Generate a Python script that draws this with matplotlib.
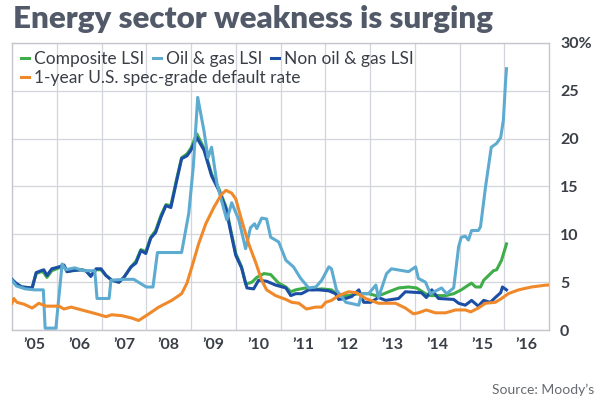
import matplotlib
matplotlib.use("Agg")
import matplotlib.pyplot as plt
from matplotlib.lines import Line2D

# Fechas en años decimales, valores en %
oil_x = [2005.0, 2005.1, 2005.3, 2005.5, 2005.7, 2005.74, 2005.98, 2006.12, 2006.2, 2006.4,
         2006.6, 2006.85, 2006.9, 2007.17, 2007.21, 2007.5, 2007.72, 2008.0, 2008.15, 2008.25,
         2008.79, 2008.95, 2009.05, 2009.15, 2009.29, 2009.38, 2009.46, 2009.58, 2009.8, 2009.91,
         2010.07, 2010.22, 2010.33, 2010.42, 2010.47, 2010.58, 2010.69, 2010.78, 2010.96, 2011.12,
         2011.29, 2011.45, 2011.63, 2011.79, 2011.92, 2012.08, 2012.14, 2012.25, 2012.46, 2012.75,
         2012.81, 2012.97, 2013.13, 2013.19, 2013.37, 2013.48, 2013.86, 2014.02, 2014.08, 2014.24,
         2014.35, 2014.60, 2014.71, 2014.87, 2014.98, 2015.04, 2015.13, 2015.20, 2015.27, 2015.42,
         2015.47, 2015.58, 2015.71, 2015.83, 2015.92, 2015.98, 2016.03, 2016.05]
oil_y = [5.2, 4.6, 4.3, 4.2, 4.2, 0.2, 0.2, 6.9, 6.3, 6.5,
         6.2, 6.2, 3.3, 3.3, 5.2, 5.3, 5.3, 4.5, 4.5, 8.1,
         8.1, 12.2, 17.0, 24.3, 20.8, 18.0, 19.1, 15.3, 11.5, 13.3,
         11.5, 8.5, 10.7, 11.1, 10.6, 11.7, 11.6, 9.7, 9.2, 7.3,
         6.6, 5.4, 4.4, 4.5, 5.2, 6.6, 6.4, 4.2, 2.9, 2.6,
         3.8, 3.8, 4.7, 3.4, 5.9, 6.4, 6.1, 6.6, 5.4, 5.0,
         3.8, 4.4, 3.8, 4.4, 8.7, 9.7, 9.8, 9.4, 10.4, 10.4,
         10.8, 14.9, 19.1, 19.5, 20.1, 21.9, 26.0, 27.3]

non_x = [2005.0, 2005.09, 2005.22, 2005.45, 2005.54, 2005.65, 2005.71, 2005.78, 2005.89, 2006.05,
         2006.16, 2006.23, 2006.34, 2006.54, 2006.65, 2006.76, 2006.88, 2006.99, 2007.10, 2007.23,
         2007.39, 2007.50, 2007.66, 2007.77, 2007.88, 2007.99, 2008.10, 2008.21, 2008.33, 2008.44,
         2008.55, 2008.68, 2008.79, 2008.91, 2009.00, 2009.13, 2009.29, 2009.46, 2009.62, 2009.78,
         2009.89, 2010.00, 2010.13, 2010.25, 2010.40, 2010.51, 2010.69, 2010.89, 2011.12, 2011.23,
         2011.34, 2011.47, 2011.63, 2011.85, 2012.08, 2012.23, 2012.30, 2012.46, 2012.59, 2012.75,
         2012.86, 2013.01, 2013.19, 2013.35, 2013.64, 2013.79, 2014.15, 2014.26, 2014.38, 2014.53,
         2014.87, 2014.98, 2015.13, 2015.27, 2015.42, 2015.54, 2015.69, 2015.80, 2015.92, 2015.96,
         2016.05]
non_y = [5.3, 4.9, 4.5, 4.4, 6.0, 6.2, 6.3, 5.7, 6.4, 6.6,
         6.8, 6.1, 6.2, 6.3, 6.2, 5.6, 6.4, 6.4, 5.7, 5.2,
         5.0, 5.5, 6.6, 7.0, 8.3, 8.0, 9.6, 10.2, 11.8, 13.0,
         12.8, 15.6, 17.9, 18.2, 18.8, 20.1, 18.8, 16.1, 14.6, 12.7,
         10.2, 7.8, 6.5, 4.4, 4.3, 5.2, 5.1, 4.7, 4.4, 3.6,
         3.8, 3.8, 4.2, 4.2, 4.1, 3.8, 3.2, 3.3, 3.5, 4.2,
         2.9, 2.9, 3.4, 3.1, 3.3, 4.0, 3.9, 3.4, 4.2, 3.3,
         3.2, 2.8, 2.6, 3.1, 2.5, 3.1, 2.9, 3.4, 3.9, 4.5,
         4.2]

comp_x = [2005.0, 2005.09, 2005.22, 2005.45, 2005.54, 2005.65, 2005.71, 2005.78, 2005.89, 2006.05,
          2006.16, 2006.23, 2006.34, 2006.54, 2006.65, 2006.76, 2006.88, 2006.99, 2007.10, 2007.23,
          2007.39, 2007.50, 2007.66, 2007.77, 2007.88, 2007.99, 2008.10, 2008.21, 2008.33, 2008.44,
          2008.55, 2008.68, 2008.79, 2008.91, 2009.00, 2009.13, 2009.29, 2009.46, 2009.62, 2009.78,
          2009.89, 2010.00, 2010.13, 2010.22, 2010.36, 2010.47, 2010.63, 2010.78, 2010.96, 2011.12,
          2011.23, 2011.34, 2011.56, 2011.70, 2011.92, 2012.14, 2012.30, 2012.52, 2012.75, 2012.97,
          2013.13, 2013.26, 2013.42, 2013.64, 2013.86, 2014.04, 2014.24, 2014.35, 2014.69, 2014.87,
          2015.04, 2015.20, 2015.27, 2015.36, 2015.47, 2015.54, 2015.65, 2015.76, 2015.83, 2015.94,
          2016.05]
comp_y = [5.2, 4.8, 4.5, 4.4, 5.9, 6.1, 6.0, 5.5, 6.2, 6.5,
          6.7, 6.1, 6.2, 6.3, 6.2, 5.7, 6.3, 6.3, 5.7, 5.2,
          5.0, 5.5, 6.6, 7.2, 8.4, 8.2, 9.7, 10.4, 12.0, 13.1,
          13.0, 15.8, 18.0, 18.4, 19.0, 20.5, 19.0, 16.3, 14.8, 12.9,
          10.4, 8.0, 6.6, 4.8, 5.0, 5.5, 5.9, 5.8, 4.9, 4.5,
          4.0, 4.2, 4.4, 4.2, 4.3, 4.2, 3.6, 3.6, 3.8, 3.8,
          3.6, 3.7, 4.0, 4.4, 4.5, 4.4, 3.8, 3.6, 3.6, 3.8,
          4.2, 4.7, 4.9, 4.5, 4.5, 5.2, 5.7, 6.2, 6.3, 7.3,
          9.0]

dflt_x = [2005.0, 2005.04, 2005.11, 2005.27, 2005.45, 2005.60, 2005.76, 2006.05, 2006.16, 2006.32,
          2006.56, 2006.88, 2007.10, 2007.23, 2007.46, 2007.68, 2007.83, 2008.06, 2008.28, 2008.57,
          2008.79, 2008.91, 2009.02, 2009.17, 2009.33, 2009.51, 2009.67, 2009.78, 2009.91, 2010.00,
          2010.13, 2010.29, 2010.45, 2010.58, 2010.69, 2010.89, 2011.12, 2011.25, 2011.41, 2011.58,
          2011.79, 2011.92, 2012.01, 2012.14, 2012.30, 2012.52, 2012.70, 2012.90, 2013.19, 2013.57,
          2013.79, 2013.97, 2014.08, 2014.26, 2014.46, 2014.69, 2014.91, 2015.13, 2015.25, 2015.42,
          2015.58, 2015.80, 2015.94, 2016.09, 2016.32, 2016.61, 2016.94, 2017.0]
dflt_y = [2.8, 3.3, 2.9, 2.7, 2.3, 2.8, 2.5, 2.5, 2.2, 2.4,
          2.1, 1.7, 1.4, 1.6, 1.5, 1.25, 1.0, 1.7, 2.4, 3.1,
          3.8, 4.9, 6.6, 9.0, 11.1, 12.8, 14.1, 14.6, 14.3, 13.7,
          11.5, 9.0, 7.0, 5.2, 4.2, 3.6, 3.2, 2.9, 2.8, 2.2,
          2.4, 2.4, 2.9, 3.1, 3.6, 4.0, 3.9, 3.3, 2.8, 2.8,
          2.3, 1.7, 1.8, 2.1, 1.8, 1.8, 2.1, 2.1, 1.9, 2.3,
          2.8, 2.9, 3.3, 3.8, 4.2, 4.5, 4.7, 4.7]

year_ticks = [2005.5 + i for i in range(12)]
year_labels = ["\u2019%02d" % (5 + i) for i in range(12)]
value_ticks = [0, 5, 10, 15, 20, 25, 30]
value_labels = ["0", "5", "10", "15", "20", "25", "30%"]

c_green = "#3fae49"
c_light = "#5eabd1"
c_dark = "#1c4ea6"
c_orange = "#f0892a"
c_grid = "#d3d5dc"
c_text = "#3a3f47"

plt.rcParams["font.family"] = ["Lato", "DejaVu Sans"]

fig = plt.figure(figsize=(6.0, 4.08), dpi=100)
ax = fig.add_axes([0.02, 0.191, 0.895, 0.704])

ax.plot(comp_x, comp_y, color=c_green, lw=2.2, zorder=3)
ax.plot(non_x, non_y, color=c_dark, lw=2.2, zorder=4)
ax.plot(oil_x, oil_y, color=c_light, lw=2.2, zorder=5)
ax.plot(dflt_x, dflt_y, color=c_orange, lw=2.2, zorder=6)

ax.set_xlim(2005, 2017)
ax.set_ylim(0, 30)
ax.set_xticks(year_ticks)
ax.set_xticklabels(year_labels, fontsize=11.5, fontweight="bold", color=c_text)
ax.set_xticks(range(2006, 2017), minor=True)
ax.yaxis.tick_right()
ax.set_yticks(value_ticks)
ax.set_yticklabels(value_labels, fontsize=11.5, fontweight="bold", color=c_text)
ax.tick_params(axis="both", which="both", length=0)
ax.tick_params(axis="x", pad=6)
ax.tick_params(axis="y", pad=8)
ax.grid(True, which="minor", axis="x", color=c_grid, lw=0.9)
ax.grid(True, which="major", axis="y", color=c_grid, lw=0.9)
for s in ax.spines.values():
    s.set_color("#c4c6cc")
    s.set_linewidth(1.0)

handles = [Line2D([], [], color=c, lw=2.2) for c in (c_green, c_light, c_dark, c_orange)]
labels = ["Composite LSI", "Oil & gas LSI", "Non oil & gas LSI", "1-year U.S. spec-grade default rate"]
leg1 = ax.legend(handles[:3], labels[:3], loc="upper left", bbox_to_anchor=(-0.005, 1.014), ncol=3,
                 frameon=False, handlelength=0.45, handletextpad=0.25, columnspacing=0.55,
                 prop={"size": 12.5}, labelcolor=c_text, borderaxespad=0.3)
ax.add_artist(leg1)
ax.legend(handles[3:], labels[3:], loc="upper left", bbox_to_anchor=(-0.005, 0.949),
          frameon=False, handlelength=0.45, handletextpad=0.25,
          prop={"size": 12.5}, labelcolor=c_text, borderaxespad=0.3)

fig.text(0.022, 0.953, "Energy sector weakness is surging", fontsize=22.5, fontweight="heavy",
         color="#525a69", va="center", ha="left")
fig.text(0.99, 0.045, "Source: Moody\u2019s", fontsize=10, color="#666a70", ha="right", va="center")

fig.savefig("out.png", dpi=100)
